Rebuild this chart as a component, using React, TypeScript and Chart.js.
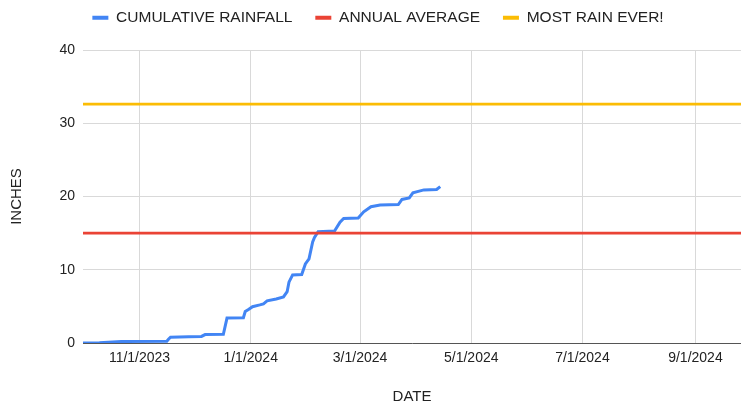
import React, { useEffect, useRef } from 'react';
import { Chart, registerables } from 'chart.js';

Chart.register(...registerables);

// ---- data ----
const START_DATE = '2023-10-01';
const END_DATE = '2024-09-26';

const rainDates = [
  '2023-10-01', '2023-10-10', '2023-10-22', '2023-11-16', '2023-11-17', '2023-11-18',
  '2023-11-28', '2023-12-05', '2023-12-07', '2023-12-17', '2023-12-19', '2023-12-28',
  '2023-12-29', '2023-12-31', '2024-01-02', '2024-01-06', '2024-01-08', '2024-01-10',
  '2024-01-15', '2024-01-19', '2024-01-21', '2024-01-22', '2024-01-24', '2024-01-29',
  '2024-01-31', '2024-02-02', '2024-02-04', '2024-02-05', '2024-02-07', '2024-02-16',
  '2024-02-19', '2024-02-21', '2024-02-29', '2024-03-03', '2024-03-07', '2024-03-12',
  '2024-03-22', '2024-03-24', '2024-03-28', '2024-03-30', '2024-04-05', '2024-04-12',
  '2024-04-14',
];
const rainInches = [
  0, 0.05, 0.2, 0.25, 0.55, 0.78,
  0.85, 0.9, 1.15, 1.2, 3.4, 3.45,
  4.3, 4.6, 4.95, 5.2, 5.35, 5.75,
  6.0, 6.3, 7.0, 8.3, 9.3, 9.35,
  10.8, 11.5, 13.8, 14.4, 15.2, 15.3,
  16.5, 17.0, 17.05, 17.9, 18.6, 18.85,
  18.9, 19.6, 19.8, 20.5, 20.9, 20.95,
  21.35,
];
const annualAverage = 15;
const mostRainEver = 32.6;

const tickDates = ['2023-11-01', '2024-01-01', '2024-03-01', '2024-05-01', '2024-07-01', '2024-09-01'];
const yTicks = [0, 10, 20, 30, 40];

const seriesLabels = ['CUMULATIVE RAINFALL', 'ANNUAL AVERAGE', 'MOST RAIN EVER!'];
const seriesColors = ['#4285F4', '#EA4335', '#FBBC04'];

// ---- helpers ----
const DAY_MS = 86400000;
const startMs = Date.parse(START_DATE + 'T00:00:00Z');
const dayOf = (s: string) => (Date.parse(s + 'T00:00:00Z') - startMs) / DAY_MS;
const fmtDay = (day: number) => {
  const d = new Date(startMs + day * DAY_MS);
  return `${d.getUTCMonth() + 1}/${d.getUTCDate()}/${d.getUTCFullYear()}`;
};

const FONT = 'Arial, "Liberation Sans", sans-serif';
const TEXT = '#222222';

const legendSpacer = {
  id: 'legendSpacer',
  beforeInit(chart: any) {
    const legend = chart.legend;
    if (!legend) return;
    const origFit = legend.fit;
    legend.fit = function () {
      origFit.call(this);
      this.height += 14.5;
    };
  },
};

export default function App() {
  const ref = useRef<HTMLCanvasElement | null>(null);

  useEffect(() => {
    if (!ref.current) return;
    const xMax = dayOf(END_DATE);
    const chart = new Chart(ref.current, {
      type: 'line',
      data: {
        datasets: [
          {
            label: seriesLabels[0],
            data: rainDates.map((d, i) => ({ x: dayOf(d), y: rainInches[i] })),
            borderColor: seriesColors[0],
            backgroundColor: seriesColors[0],
            borderWidth: 3,
            pointRadius: 0,
            tension: 0,
            order: 3,
          },
          {
            label: seriesLabels[1],
            data: [{ x: 0, y: annualAverage }, { x: xMax, y: annualAverage }],
            borderColor: seriesColors[1],
            backgroundColor: seriesColors[1],
            borderWidth: 2.7,
            pointRadius: 0,
            order: 2,
          },
          {
            label: seriesLabels[2],
            data: [{ x: 0, y: mostRainEver }, { x: xMax, y: mostRainEver }],
            borderColor: seriesColors[2],
            backgroundColor: seriesColors[2],
            borderWidth: 2.7,
            pointRadius: 0,
            order: 1,
          },
        ],
      },
      options: {
        animation: false,
        responsive: false,
        maintainAspectRatio: false,
        layout: { padding: { left: 15, right: 0, top: 0, bottom: 0 } },
        plugins: {
          tooltip: { enabled: false },
          legend: {
            position: 'top',
            align: 'center',
            labels: {
              boxWidth: 16,
              boxHeight: 4,
              padding: 10,
              color: TEXT,
              font: { family: FONT, size: 15.5 },
              generateLabels: (c: any) =>
                c.data.datasets.map((ds: any, i: number) => ({
                  text: ds.label + (i < c.data.datasets.length - 1 ? '   ' : ''),
                  fillStyle: ds.borderColor,
                  strokeStyle: ds.borderColor,
                  lineWidth: 0,
                  hidden: false,
                  datasetIndex: i,
                  fontColor: TEXT,
                })),
            },
          },
        },
        scales: {
          x: {
            type: 'linear',
            min: 0,
            max: xMax,
            afterBuildTicks: (scale: any) => {
              scale.ticks = tickDates.map((s) => ({ value: dayOf(s) }));
            },
            afterFit: (scale: any) => {
              scale.height = 63;
            },
            ticks: {
              autoSkip: false,
              maxRotation: 0,
              padding: 7,
              color: TEXT,
              font: { family: FONT, size: 14 },
              callback: (v: any) => fmtDay(Number(v)),
            },
            grid: { color: '#d9d9d9', lineWidth: 1, drawTicks: false },
            border: { display: true, color: '#555555', width: 1 },
            title: {
              display: true,
              text: 'DATE',
              color: TEXT,
              font: { family: FONT, size: 15 },
              padding: { top: 0, bottom: 0 },
            },
          },
          y: {
            type: 'linear',
            min: 0,
            max: 40,
            afterBuildTicks: (scale: any) => {
              scale.ticks = yTicks.map((v) => ({ value: v }));
            },
            afterFit: (scale: any) => {
              scale.width = 68;
            },
            ticks: {
              padding: 8,
              color: TEXT,
              font: { family: FONT, size: 14 },
            },
            grid: { color: '#d9d9d9', lineWidth: 1, drawTicks: false },
            border: { display: false },
            title: {
              display: true,
              text: 'INCHES',
              color: TEXT,
              font: { family: FONT, size: 15 },
              padding: { top: -7, bottom: 0 },
            },
          },
        },
      },
      plugins: [legendSpacer],
    } as any);
    return () => chart.destroy();
  }, []);

  return (
    <div style={{ position: 'fixed', left: 0, top: 0, width: 741, height: 406, background: '#fff' }}>
      <canvas ref={ref} width={741} height={406} style={{ display: 'block', width: 741, height: 406 }} />
    </div>
  );
}
